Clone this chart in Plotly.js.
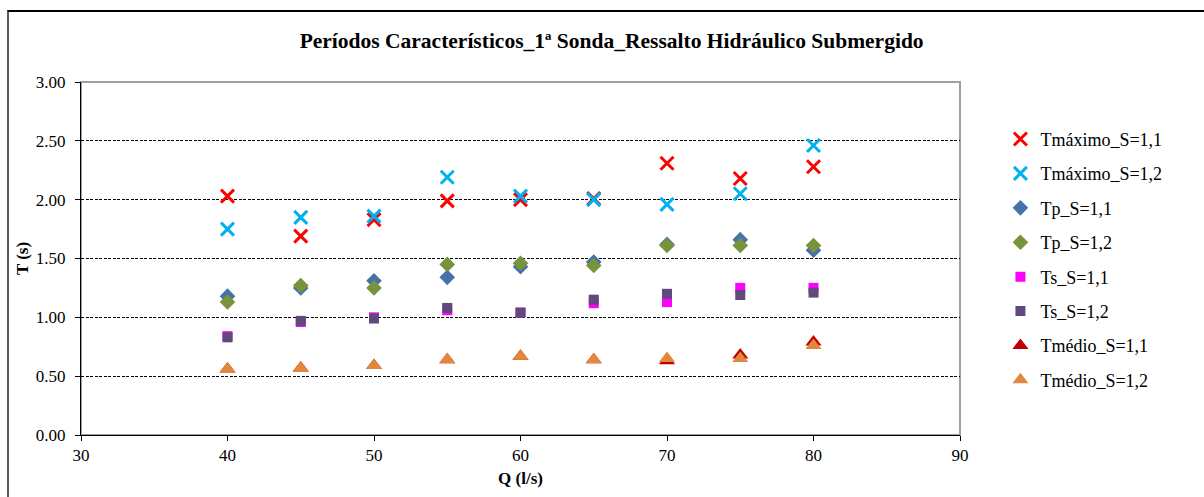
<!DOCTYPE html>
<html>
<head>
<meta charset="utf-8">
<script src="https://cdn.plot.ly/plotly-3.0.1.min.js"></script>
<style>
html,body{margin:0;padding:0;background:#fff;}
#wrap{position:relative;width:1204px;height:497px;overflow:hidden;}
#chart{position:absolute;left:0;top:0;width:1204px;height:497px;}
#frame{position:absolute;left:7px;top:10px;width:1210px;height:500px;border-left:2px solid #5a5a5a;border-top:2px solid #000;pointer-events:none;}
</style>
</head>
<body>
<div id="wrap"><div id="chart"></div><div id="frame"></div></div>
<script>
const Q = [40, 45, 50, 55, 60, 65, 70, 75, 80];
const seriesNames = ["Tmáximo_S=1,1","Tmáximo_S=1,2","Tp_S=1,1","Tp_S=1,2","Ts_S=1,1","Ts_S=1,2","Tmédio_S=1,1","Tmédio_S=1,2"];
const tmax_11 = [2.03, 1.69, 1.83, 1.99, 2.00, 2.01, 2.31, 2.18, 2.28];
const tmax_12 = [1.75, 1.85, 1.86, 2.19, 2.03, 2.00, 1.96, 2.05, 2.46];
const tp_11   = [1.18, 1.25, 1.31, 1.34, 1.43, 1.47, 1.62, 1.66, 1.57];
const tp_12   = [1.13, 1.27, 1.25, 1.45, 1.46, 1.44, 1.61, 1.61, 1.61];
const ts_11   = [0.84, 0.96, 1.00, 1.06, 1.04, 1.12, 1.13, 1.25, 1.25];
const ts_12   = [0.83, 0.97, 0.99, 1.08, 1.04, 1.15, 1.20, 1.19, 1.21];
const tmed_11 = [0.56, 0.57, 0.59, 0.64, 0.67, 0.64, 0.63, 0.68, 0.79];
const tmed_12 = [0.56, 0.57, 0.59, 0.64, 0.67, 0.64, 0.65, 0.65, 0.76];
const xTicks = [30, 40, 50, 60, 70, 80, 90];
const yTicks = [0, 0.5, 1, 1.5, 2, 2.5, 3];
const yTickText = ["0.00","0.50","1.00","1.50","2.00","2.50","3.00"];

const values = [tmax_11, tmax_12, tp_11, tp_12, ts_11, ts_12, tmed_11, tmed_12];
const styles = [
  {symbol:"x-thin", size:13, line:{color:"#FF0000", width:3}, color:"#FF0000"},
  {symbol:"x-thin", size:13, line:{color:"#00B0F0", width:3}, color:"#00B0F0"},
  {symbol:"diamond", size:12, color:"#4672A8", line:{width:0}},
  {symbol:"diamond", size:12, color:"#77933C", line:{width:0}},
  {symbol:"square", size:10, color:"#FF00FF", line:{width:0}},
  {symbol:"square", size:10, color:"#604A7B", line:{width:0}},
  {symbol:"triangle-up", size:14, color:"#C00000", line:{width:0}},
  {symbol:"triangle-up", size:14, color:"#E0883C", line:{width:0}}
];

const traces = values.map((v, i) => ({
  type: "scatter", mode: "markers", x: Q, y: v, name: seriesNames[i],
  legendgroup: "g" + i, marker: styles[i], cliponaxis: false
}));

const font = "Times New Roman, Liberation Serif, Tinos, DejaVu Serif, serif";
const layout = {
  width: 1204, height: 497,
  margin: {l: 81, r: 244, t: 82, b: 62},
  paper_bgcolor: "#fff", plot_bgcolor: "#fff",
  font: {family: font, size: 17, color: "#000"},
  title: {text: "<b>Períodos Característicos_1ª Sonda_Ressalto Hidráulico Submergido</b>",
          x: 0.508, xanchor: "center", y: 0.918, yanchor: "middle",
          font: {family: font, size: 21.5, color: "#000"}},
  xaxis: {range: [30, 90], tickvals: xTicks, ticktext: xTicks.map(String),
          showgrid: false, zeroline: false, showline: true, linecolor: "#000", linewidth: 1,
          ticks: "outside", ticklen: 5, tickcolor: "#000", tickfont: {family: font, size: 17},
          title: {text: "<b>Q (l/s)</b>", standoff: 7, font: {family: font, size: 17}}},
  yaxis: {range: [0, 3], tickvals: yTicks, ticktext: yTickText,
          showgrid: true, gridcolor: "#000", griddash: "3px,1.5px", gridwidth: 1,
          zeroline: false, showline: true, linecolor: "#000", linewidth: 1,
          ticks: "outside", ticklen: 5, tickcolor: "#000", tickfont: {family: font, size: 17},
          ticklabelstandoff: 6,
          title: {text: "<b>T (s)</b>", standoff: 2, font: {family: font, size: 17}}},
  shapes: [{type: "rect", xref: "paper", yref: "paper", x0: 0, x1: 1, y0: 0, y1: 1,
            line: {color: "#A0A0A0", width: 2}, layer: "below"}],
  legend: {x: 1.046, xanchor: "left", y: 0.89, yanchor: "top",
           font: {family: font, size: 18, color: "#000"},
           traceorder: "grouped", tracegroupgap: 8, itemwidth: 30, bgcolor: "rgba(0,0,0,0)"},
  showlegend: true
};
Plotly.newPlot("chart", traces, layout, {displayModeBar: false, staticPlot: true});
</script>
</body>
</html>
